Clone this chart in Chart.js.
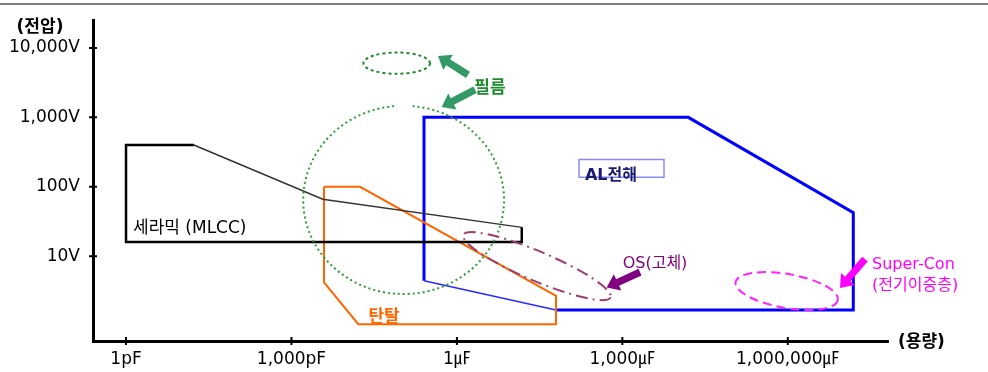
<!DOCTYPE html>
<html><head><meta charset="utf-8">
<script src="https://cdn.jsdelivr.net/npm/chart.js@4/dist/chart.umd.min.js"></script>
<style>
html,body{margin:0;padding:0;background:#fff;}
#wrap{position:relative;width:988px;height:372px;overflow:hidden;}
#topline{position:absolute;left:0;top:3px;width:988px;height:0;border-top:2px solid #7f7f7f;}
canvas{position:absolute;left:0;top:0;}
</style></head><body>
<div id="wrap"><canvas id="c" width="988" height="372"></canvas><div id="topline"></div></div>
<script>
// ---------- axis ticks ----------
const xTickValues = [1, 1e3, 1e6, 1e9, 1e12];            // capacitance in pF
const xTickLabels = ['1pF', '1,000pF', '1㎌', '1,000㎌', '1,000,000㎌'];
const yTickValues = [10, 100, 1000, 10000];               // voltage in V
const yTickLabels = ['10V', '100V', '1,000V', '10,000V'];
const xRange = [0.252, 6.56e13];
const yRange = [0.6225, 25240];

// ---------- ceramic (MLCC) ----------
const ceramicEdgeX  = [1.5e7, 1.5e7, 1, 1, 17];
const ceramicEdgeY  = [26, 16, 16, 400, 400];
const ceramicSlopeX = [17, 3700, 1.5e7];
const ceramicSlopeY = [400, 66, 26];

// ---------- tantalum ----------
const tantalX = [3890, 17500, 6.27e7, 6.27e7, 16300, 3890, 3890];
const tantalY = [100, 100, 2.69, 1.05, 1.05, 4.19, 100];

// ---------- aluminium electrolytic ----------
const alX = [2.53e5, 2.53e5, 1.57e10, 1.54e13, 1.54e13, 6.27e7];
const alY = [4.42, 1000, 1000, 42.4, 1.68, 1.68];
const alSlantX = [6.27e7, 2.53e5];
const alSlantY = [1.68, 4.42];

// ---------- ellipses: [centerX, centerY, axisEndX, axisEndY, otherAxisEndX, otherAxisEndY] ----------
const filmBig   = [1.08e5, 64.7, 7.15e6, 64.7, 1.08e5, 2.85];
const filmSmall = [8.1e4, 6026, 3.25e5, 6026, 8.1e4, 4235];
const osSolid   = [2.83e7, 7.19, 6.11e8, 2.55, 2.22e7, 4.6];
const superCon  = [9.55e11, 3.15, 8.07e12, 2.34, 8.4e11, 1.81];

// ---------- arrows: [tailX, tailY, tipX, tipY] ----------
const arrowFilm1  = [1.59e6, 4093, 4.54e5, 7674];
const arrowFilm2  = [2.13e6, 2494, 5.3e5, 1409];
const arrowOS     = [2.09e9, 5.89, 5.2e8, 3.55];
const arrowSuper  = [2.51e13, 9.06, 8.84e12, 3.47];

// ---------- labels ----------
const labelCeramic = ['세라믹 (MLCC)', 1.34, 27.9];
const labelTantal  = ['탄탈', 4.77e4, 1.42];
const labelFilm    = ['필름', 3.98e6, 2845];
const labelAL      = ['AL전해', 2.1e8, 158];
const labelALBox   = [1.64e8, 247, 5.69e9, 137];
const labelOS      = ['OS(고체)', 3.91e9, 8.47];
const labelSuper1  = ['Super-Con', 3.37e13, 8.34];
const labelSuper2  = ['(전기이중층)', 3.37e13, 4.1];

const FONT = "'DejaVu Sans', 'Noto Sans CJK KR', sans-serif";

function pts(xs, ys) { return xs.map((x, i) => ({ x: x, y: ys[i] })); }
function line(data, color, width) {
  return { data: data, showLine: true, borderColor: color, borderWidth: width, pointRadius: 0,
           fill: false, tension: 0, borderJoinStyle: 'miter', clip: false };
}

const overlay = {
  id: 'overlay',
  afterDatasetsDraw(chart) {
    const ctx = chart.ctx, xs = chart.scales.x, ys = chart.scales.y;
    const P = (x, y) => [xs.getPixelForValue(x), ys.getPixelForValue(y)];

    function ellipse(e, color, width, dash, a0, a1) {
      const c = P(e[0], e[1]), a = P(e[2], e[3]), b = P(e[4], e[5]);
      ctx.save();
      ctx.beginPath();
      ctx.save();
      ctx.translate(c[0], c[1]);
      ctx.transform(a[0] - c[0], a[1] - c[1], b[0] - c[0], b[1] - c[1], 0, 0);
      ctx.arc(0, 0, 1, a0 === undefined ? 0 : a0, a1 === undefined ? Math.PI * 2 : a1);
      ctx.restore();
      ctx.strokeStyle = color; ctx.lineWidth = width; ctx.setLineDash(dash);
      ctx.stroke();
      ctx.restore();
    }
    function arrow(ar, color) {
      const t = P(ar[0], ar[1]), p = P(ar[2], ar[3]);
      const dx = p[0] - t[0], dy = p[1] - t[1], L = Math.hypot(dx, dy);
      const ux = dx / L, uy = dy / L, nx = -uy, ny = ux;
      const hl = 12, hw = 9, sw = 3.6;
      const bx = p[0] - ux * hl, by = p[1] - uy * hl;
      ctx.save();
      ctx.beginPath();
      ctx.moveTo(t[0] + nx * sw, t[1] + ny * sw);
      ctx.lineTo(bx + nx * sw, by + ny * sw);
      ctx.lineTo(bx + nx * hw, by + ny * hw);
      ctx.lineTo(p[0], p[1]);
      ctx.lineTo(bx - nx * hw, by - ny * hw);
      ctx.lineTo(bx - nx * sw, by - ny * sw);
      ctx.lineTo(t[0] - nx * sw, t[1] - ny * sw);
      ctx.closePath();
      ctx.fillStyle = color; ctx.fill();
      ctx.restore();
    }
    function text(l, color, font, align) {
      const p = P(l[1], l[2]);
      ctx.save();
      ctx.font = font; ctx.fillStyle = color;
      ctx.textAlign = align || 'center'; ctx.textBaseline = 'middle';
      ctx.fillText(l[0], p[0], p[1] + 3);
      ctx.restore();
    }

    ellipse(filmBig, '#2f9a3a', 2, [2, 3], -Math.PI / 2 + 0.09, Math.PI * 1.5 - 0.09);
    ellipse(filmSmall, '#1f8a2a', 2, [3, 3]);
    ellipse(osSolid, '#9b3f73', 2, [12, 5, 2, 5]);
    ellipse(superCon, '#ff22ff', 2, [9, 5]);

    arrow(arrowFilm1, '#339966');
    arrow(arrowFilm2, '#339966');
    arrow(arrowOS, '#800080');
    arrow(arrowSuper, '#ff00ff');

    // AL box
    const b1 = P(labelALBox[0], labelALBox[1]), b2 = P(labelALBox[2], labelALBox[3]);
    ctx.save();
    ctx.strokeStyle = '#8a8aff'; ctx.lineWidth = 1.5;
    ctx.strokeRect(b1[0], b1[1], b2[0] - b1[0], b2[1] - b1[1]);
    ctx.restore();

    text(labelCeramic, '#000', '17px ' + FONT, 'left');
    text(labelTantal, '#ff6600', 'bold 17px ' + FONT);
    text(labelFilm, '#1e8c2e', 'bold 17px ' + FONT);
    text(labelAL, '#1a1a70', 'bold 16px ' + FONT, 'left');
    text(labelOS, '#800080', '16px ' + FONT);
    text(labelSuper1, '#ff00ff', '16px ' + FONT, 'left');
    text(labelSuper2, '#ff00ff', '16px ' + FONT, 'left');
  },
  afterDraw(chart) {
    const ctx = chart.ctx, xs = chart.scales.x, ys = chart.scales.y, a = chart.chartArea;
    ctx.save();
    ctx.strokeStyle = '#000'; ctx.lineWidth = 2;
    ctx.beginPath();
    yTickValues.forEach(v => { const y = ys.getPixelForValue(v); ctx.moveTo(a.left - 4, y); ctx.lineTo(a.left + 4, y); });
    xTickValues.forEach(v => { const x = xs.getPixelForValue(v); ctx.moveTo(x, a.bottom - 4); ctx.lineTo(x, a.bottom + 4); });
    ctx.stroke();
    ctx.fillStyle = '#000';
    ctx.font = 'bold 17px ' + FONT;
    ctx.textBaseline = 'middle';
    ctx.textAlign = 'center';
    ctx.fillText('(전압)', a.left - 53, a.top + 8);
    ctx.textAlign = 'left';
    ctx.fillText('(용량)', a.right + 10, a.bottom + 2);
    ctx.restore();
  }
};

new Chart(document.getElementById('c'), {
  type: 'scatter',
  data: {
    datasets: [
      line(pts(ceramicEdgeX, ceramicEdgeY), '#000000', 2.5),
      line(pts(ceramicSlopeX, ceramicSlopeY), '#333333', 1.5),
      line(pts(tantalX, tantalY), '#ff6600', 2),
      line(pts(alSlantX, alSlantY), '#2a2aff', 1.5),
      line(pts(alX, alY), '#0000ff', 3)
    ]
  },
  options: {
    responsive: false,
    animation: false,
    devicePixelRatio: 1,
    layout: { padding: { left: 0, right: 100, top: 20, bottom: 0 } },
    plugins: { legend: { display: false }, tooltip: { enabled: false } },
    scales: {
      x: {
        type: 'logarithmic', min: xRange[0], max: xRange[1],
        grid: { display: false, drawTicks: false, tickLength: 0 },
        border: { display: true, color: '#000', width: 3 },
        afterBuildTicks: s => { s.ticks = xTickValues.map(v => ({ value: v })); },
        afterFit: s => { s.height = 31; s.paddingLeft = 0; s.paddingRight = 0; },
        ticks: { autoSkip: false, maxRotation: 0, color: '#000', padding: 8,
                 font: { family: FONT, size: 17 },
                 callback: (v, i) => xTickLabels[i] }
      },
      y: {
        type: 'logarithmic', min: yRange[0], max: yRange[1],
        grid: { display: false, drawTicks: false, tickLength: 0 },
        border: { display: true, color: '#000', width: 3 },
        afterBuildTicks: s => { s.ticks = yTickValues.map(v => ({ value: v })); },
        afterFit: s => { s.width = 93; s.paddingTop = 0; s.paddingBottom = 0; },
        ticks: { autoSkip: false, color: '#000', padding: 13,
                 font: { family: FONT, size: 17 },
                 callback: (v, i) => yTickLabels[i] }
      }
    }
  },
  plugins: [overlay]
});
</script>
</body></html>
